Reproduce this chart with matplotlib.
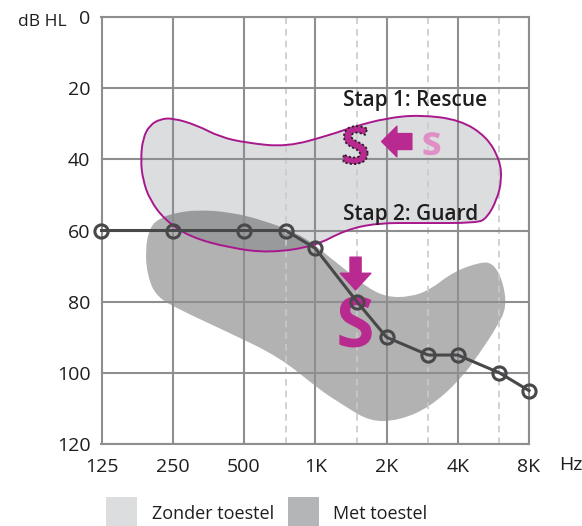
import numpy as np
import matplotlib
matplotlib.use("Agg")
import matplotlib.pyplot as plt
from matplotlib.path import Path
from matplotlib.patches import PathPatch, Rectangle
from matplotlib.textpath import TextPath
from matplotlib.font_manager import FontProperties
from matplotlib.ticker import NullFormatter
from matplotlib.transforms import Affine2D

# audiogram threshold (Hz, dB HL)
freqs = [125, 250, 500, 750, 1000, 1500, 2000, 3000, 4000, 6000, 8000]
threshold_db = [60, 60, 60, 60, 65, 80, 90, 95, 95, 100, 105]

# outline of the "Zonder toestel" area
zonder_freq = [221, 250, 316, 395, 514, 758, 1149, 1442, 2000, 2770, 4090, 5310,
               6020, 6140, 5850, 5310, 4820, 2770, 1820, 1335, 997, 642, 435,
               295, 232, 200, 187, 183, 187, 200]
zonder_db = [28.7, 28.4, 30.4, 33.7, 35.4, 36.5, 33.2, 30.9, 28.4, 27.5, 28.9, 33.7,
             40.2, 45.8, 51.4, 56.5, 57.9, 57.9, 57.9, 59.9, 64.4, 66.3, 64.9,
             61.8, 57.1, 51.4, 45.8, 40.2, 34.0, 30.4]

# outline of the "Met toestel" area
met_freq = [221, 255, 316, 435, 602, 835, 997, 1149, 1402, 1647, 2000, 2510, 3050,
            3810, 4960, 5620, 6190, 6450, 5850, 4960, 4090, 3050, 2280, 1705,
            1274, 1045, 707, 435, 268, 214, 196, 191, 200]
met_db = [56.5, 55.1, 54.2, 54.8, 57.1, 60.7, 64.1, 67.5, 72.0, 75.9, 78.7, 78.7,
          76.7, 71.7, 68.9, 69.1, 73.9, 81.5, 87.1, 94.4, 102.0, 109.6, 113.3,
          113.8, 108.5, 104.8, 95.6, 88.8, 82.3, 78.7, 73.1, 65.5, 59.0]

x_ticks = [125, 250, 500, 1000, 2000, 4000, 8000]
x_tick_labels = ["125", "250", "500", "1K", "2K", "4K", "8K"]
x_half_octaves = [750, 1500, 3000, 6000]
y_ticks = [0, 20, 40, 60, 80, 100, 120]

MAGENTA = "#b82a90"
OUTLINE = "#a8188c"
PINK = "#e08fc6"
GRID = "#8d8e90"
DASH = "#c9cacc"
LINE = "#48484a"
LIGHT = "#dcdddf"
DARK = "#b4b5b7"
TEXT = "#1e1e1e"

plt.rcParams["font.family"] = ["Open Sans", "DejaVu Sans"]


def blob_path(fr, db):
    # closed smooth outline: points act as quadratic control points
    lx = np.log2(np.asarray(fr, float))
    y = np.asarray(db, float)
    n = len(lx)
    mid = lambda i, j: ((lx[i] + lx[j]) / 2, (y[i] + y[j]) / 2)
    verts = [mid(n - 1, 0)]
    codes = [Path.MOVETO]
    for i in range(n):
        verts += [(lx[i], y[i]), mid(i, (i + 1) % n)]
        codes += [Path.CURVE3, Path.CURVE3]
    verts = np.array(verts)
    verts[:, 0] = 2 ** verts[:, 0]
    return Path(verts, codes)


def glyph(ax, char, x, y, height_px, **kw):
    tp = TextPath((0, 0), char, size=100,
                  prop=FontProperties(family="Open Sans", weight="bold"))
    bb = tp.get_extents()
    s = height_px / bb.height
    dx, dy = ax.transData.transform((x, y))
    tr = Affine2D().translate(-(bb.x0 + bb.width / 2), -(bb.y0 + bb.height / 2)) \
        .scale(s).translate(dx, dy)
    p = PathPatch(tr.transform_path(tp), transform=None, **kw)
    ax.add_artist(p)


fig = plt.figure(figsize=(5.82, 5.26), dpi=100)
ax = fig.add_axes([101.5 / 582, 1 - 444 / 526, 427.5 / 582, 427 / 526])

ax.set_xscale("log", base=2)
ax.set_xlim(125, 8000)
ax.set_ylim(120, 0)
ax.set_xticks(x_ticks)
ax.set_xticklabels(x_tick_labels)
ax.set_xticks(x_half_octaves, minor=True)
ax.xaxis.set_minor_formatter(NullFormatter())
ax.set_yticks(y_ticks)
ax.tick_params(which="both", length=0, labelsize=14, colors=TEXT)
ax.tick_params(axis="x", pad=10)
ax.tick_params(axis="y", pad=8)

ax.grid(True, which="major", color=GRID, linewidth=1.5, zorder=3)
ax.grid(True, which="minor", axis="x", color=DASH, linewidth=1.2,
        linestyle=(0, (4, 3)), zorder=3)
ax.set_axisbelow(False)
for sp in ax.spines.values():
    sp.set_color(GRID)
    sp.set_linewidth(1.5)

# areas
ax.add_patch(PathPatch(blob_path(zonder_freq, zonder_db), facecolor=LIGHT,
                       edgecolor="none", zorder=1))
ax.add_patch(PathPatch(blob_path(met_freq, met_db), facecolor="black", alpha=0.3,
                       edgecolor="none", zorder=2))
ax.add_patch(PathPatch(blob_path(zonder_freq, zonder_db), facecolor="none",
                       edgecolor=OUTLINE, linewidth=1.4, zorder=4))

# annotations
ax.text(1310, 23.6, "Stap 1: Rescue", fontsize=15, color=TEXT, fontweight="semibold",
        ha="left", va="center", zorder=5)
ax.text(1310, 55.6, "Stap 2: Guard", fontsize=15, color=TEXT, fontweight="semibold",
        ha="left", va="center", zorder=5)
glyph(ax, "S", 1480, 36, 38, facecolor=MAGENTA, edgecolor="#222222",
      linewidth=1.3, linestyle=(0, (1.2, 1.2)), zorder=5)
glyph(ax, "s", 3110, 35.6, 23, facecolor=PINK, edgecolor="none", zorder=5)
glyph(ax, "S", 1480, 85.7, 51, facecolor=MAGENTA, edgecolor="none", zorder=5)
ax.annotate("", xy=(1907, 35), xytext=(2560, 35), zorder=5,
            arrowprops=dict(arrowstyle="simple,head_length=1.1,head_width=2.2,tail_width=1.15",
                            mutation_scale=10, color=MAGENTA, shrinkA=0, shrinkB=0))
ax.annotate("", xy=(1480, 76.7), xytext=(1480, 67.5), zorder=5,
            arrowprops=dict(arrowstyle="simple,head_length=1.2,head_width=2.2,tail_width=0.8",
                            mutation_scale=10, color=MAGENTA, shrinkA=0, shrinkB=0))

# threshold line
ax.plot(freqs, threshold_db, color=LINE, linewidth=2.2, marker="o", markersize=9.5,
        markerfacecolor="none", markeredgecolor=LINE, markeredgewidth=2.2,
        zorder=7, clip_on=False)

fig.text(42 / 582, 1 - 22 / 526, "dB HL", fontsize=12.5, color=TEXT,
         ha="center", va="center")
fig.text(571 / 582, 1 - 465 / 526, "Hz", fontsize=14, color=TEXT,
         ha="center", va="center")

# legend
fig.add_artist(Rectangle((106 / 582, 0), 31 / 582, 29 / 526, transform=fig.transFigure,
                         facecolor=LIGHT, edgecolor="none"))
fig.add_artist(Rectangle((288 / 582, 0), 31 / 582, 29 / 526, transform=fig.transFigure,
                         facecolor=DARK, edgecolor="none"))
fig.text(152 / 582, 1 - 514 / 526, "Zonder toestel", fontsize=13, color=TEXT,
         ha="left", va="center")
fig.text(333 / 582, 1 - 514 / 526, "Met toestel", fontsize=13, color=TEXT,
         ha="left", va="center")

fig.savefig("out.png", dpi=100)
